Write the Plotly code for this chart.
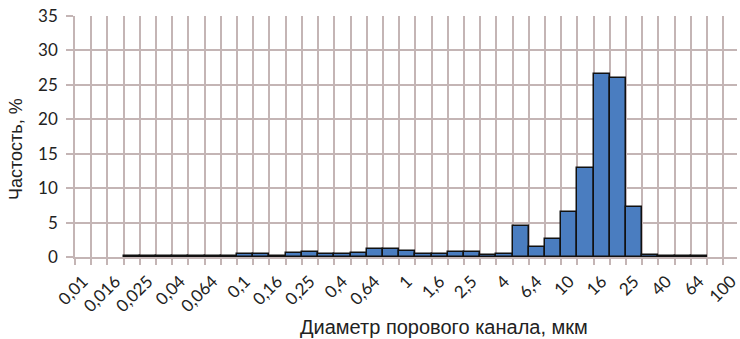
import plotly.graph_objects as go

# Pore-channel diameter classes (R10 series, µm) and their frequencies, %
diameters = [
    "0,01", "0,0125", "0,016", "0,02", "0,025", "0,0315", "0,04", "0,05",
    "0,064", "0,08", "0,1", "0,125", "0,16", "0,2", "0,25", "0,315", "0,4",
    "0,5", "0,64", "0,8", "1", "1,25", "1,6", "2", "2,5", "3,15", "4", "5",
    "6,4", "8", "10", "12,5", "16", "20", "25", "31,5", "40", "50", "64",
    "80", "100",
]
# None = empty class (no bar drawn)
frequency = [
    None, None, None, 0.1, 0.15, 0.2, 0.2, 0.2, 0.15, 0.15, 0.4, 0.4, 0.15,
    0.65, 0.7, 0.45, 0.45, 0.65, 1.1, 1.1, 0.9, 0.4, 0.45, 0.75, 0.75, 0.3,
    0.45, 4.5, 1.5, 2.65, 6.5, 12.9, 26.6, 26.0, 7.2, 0.3, 0.15, 0.1, 0.1,
    None, None,
]
# every second class is labelled on the axis
tick_labels = [d if i % 2 == 0 else "" for i, d in enumerate(diameters)]

y_title = "Частость, %"
x_title = "Диаметр порового канала, мкм"

grid_color = "#c4b5b5"
bar_color = "#4a7dc0"
text_color = "#222222"
tick_font = dict(family="Lato, Carlito, Arial", size=17, color=text_color)
title_font = dict(family="Liberation Sans, Arial", size=20, color=text_color)
ytitle_font = dict(family="Liberation Sans, Arial", size=18, color=text_color)

fig = go.Figure(
    go.Bar(
        x=diameters,
        y=frequency,
        width=1,
        marker=dict(color=bar_color, line=dict(color="#111111", width=1.5)),
        showlegend=False,
    )
)

fig.update_layout(
    width=740,
    height=339,
    margin=dict(l=75, r=0, t=16, b=82),
    paper_bgcolor="white",
    plot_bgcolor="white",
    bargap=0,
    annotations=[
        dict(text=x_title, xref="paper", yref="paper", x=0.558, y=-0.235,
             xanchor="center", yanchor="top", showarrow=False, font=title_font),
        dict(text=y_title, xref="paper", yref="paper", x=-0.09, y=0.45,
             xanchor="center", yanchor="middle", textangle=-90,
             showarrow=False, font=ytitle_font),
    ],
)

fig.update_xaxes(
    type="category",
    categoryorder="array",
    categoryarray=diameters,
    tickmode="array",
    tickvals=diameters,
    ticktext=tick_labels,
    tickson="boundaries",
    range=[-0.5, 40.35],
    tickangle=-45,
    tickfont=tick_font,
    ticklabelstandoff=6,
    showgrid=True,
    gridcolor=grid_color,
    gridwidth=1.5,
    ticks="outside",
    ticklen=6,
    tickcolor=grid_color,
    tickwidth=1.5,
    showline=True,
    linecolor=grid_color,
    linewidth=1.5,
    zeroline=False,
)

fig.update_yaxes(
    range=[0, 35],
    tick0=0,
    dtick=5,
    tickfont=tick_font,
    ticklabelstandoff=5,
    showgrid=True,
    gridcolor=grid_color,
    gridwidth=1.5,
    ticks="outside",
    ticklen=7,
    tickcolor=grid_color,
    tickwidth=1.5,
    showline=True,
    linecolor=grid_color,
    linewidth=1.5,
    zeroline=False,
)

fig.write_html("out.html")
